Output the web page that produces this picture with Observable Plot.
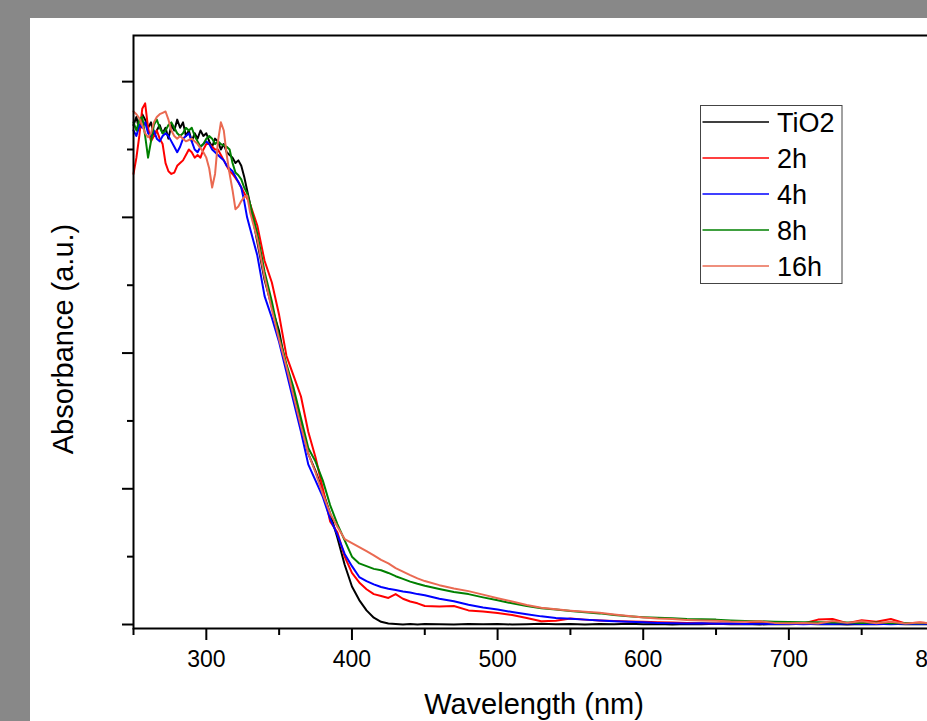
<!DOCTYPE html>
<html><head><meta charset="utf-8">
<script src="https://cdn.jsdelivr.net/npm/d3@7"></script>
<script src="https://cdn.jsdelivr.net/npm/@observablehq/plot@0.6"></script>
<style>
html,body{margin:0;padding:0;background:#888888;overflow:hidden;width:927px;height:721px;}
#panel{position:absolute;left:30px;top:18px;width:930px;height:703px;background:#ffffff;}
#legend{position:absolute;left:670px;top:87px;}
</style></head>
<body>
<div id="panel"><div id="chart"></div><div id="legend"></div></div>
<script>
const wavelengths = [
 250,252,254,256,258,260,262,264,266,268,270,272,274,276,278,280,282,284,286,288,290,292,294,296,298,300,302,304,306,308,310,312,314,316,318,320,322,324,326,328,330,
 335,340,345,350,355,360,365,370,375,380,385,390,395,400,405,410,415,420,425,430,435,440,445,450,
 460,470,480,490,500,510,520,530,540,550,560,570,580,590,600,610,620,630,640,650,660,670,680,690,700,710,720,730,740,750,760,770,780,790,800
];
const tio2 = [
 1.84,1.87,1.82,1.88,1.86,1.83,1.85,1.80,1.82,1.84,1.81,1.83,1.79,1.84,1.82,1.86,1.83,1.85,1.80,1.82,1.78,1.81,1.79,1.82,1.80,1.81,1.78,1.76,1.79,1.78,1.75,1.77,1.74,1.73,1.72,1.70,1.71,1.69,1.65,1.60,1.55,
 1.41,1.27,1.17,1.08,0.94,0.85,0.74,0.63,0.565,0.49,0.41,0.32,0.22,0.14,0.09,0.052,0.025,0.010,0.004,0.002,0.000,0.002,0.000,0.002,
 0.001,0.000,0.002,0.001,0.002,0.000,0.001,0.003,0.001,0.002,0.000,0.002,0.001,0.003,0.001,0.002,0.000,0.002,0.001,0.003,0.001,0.002,0.000,0.002,0.001,0.003,0.001,0.002,0.000,0.002,0.001,0.003,0.001,0.002,0.001
];
const h2 = [
 1.66,1.72,1.80,1.90,1.92,1.83,1.78,1.80,1.82,1.79,1.77,1.70,1.67,1.66,1.665,1.69,1.70,1.71,1.73,1.75,1.74,1.72,1.73,1.72,1.75,1.77,1.77,1.76,1.75,1.75,1.73,1.71,1.69,1.67,1.66,1.645,1.63,1.61,1.59,1.57,1.55,
 1.47,1.34,1.26,1.14,0.99,0.915,0.84,0.71,0.615,0.50,0.38,0.34,0.25,0.19,0.155,0.13,0.112,0.105,0.098,0.112,0.095,0.085,0.078,0.068,
 0.066,0.068,0.052,0.048,0.042,0.035,0.024,0.012,0.014,0.022,0.018,0.015,0.013,0.011,0.010,0.008,0.007,0.006,0.005,0.004,0.004,0.003,0.010,0.003,0.002,0.004,0.018,0.020,0.005,0.016,0.010,0.020,0.004,0.007,0.003
];
const h4 = [
 1.82,1.80,1.84,1.83,1.85,1.81,1.80,1.82,1.79,1.78,1.80,1.81,1.80,1.78,1.76,1.74,1.76,1.79,1.80,1.81,1.78,1.75,1.74,1.76,1.77,1.78,1.77,1.75,1.74,1.73,1.72,1.71,1.69,1.68,1.67,1.65,1.63,1.61,1.56,1.50,1.46,
 1.36,1.21,1.13,1.04,0.93,0.82,0.71,0.59,0.53,0.47,0.39,0.33,0.26,0.215,0.175,0.16,0.148,0.138,0.132,0.127,0.122,0.118,0.112,0.108,
 0.095,0.086,0.073,0.063,0.055,0.046,0.038,0.030,0.024,0.021,0.018,0.015,0.012,0.010,0.008,0.006,0.005,0.004,0.005,0.003,0.004,0.002,0.003,0.002,0.003,0.001,0.003,0.002,0.004,0.002,0.003,0.001,0.003,0.002,0.003
];
const h8 = [
 1.85,1.82,1.86,1.87,1.80,1.72,1.78,1.84,1.86,1.83,1.81,1.82,1.84,1.85,1.83,1.81,1.80,1.81,1.83,1.82,1.83,1.80,1.78,1.76,1.77,1.79,1.80,1.79,1.77,1.78,1.77,1.765,1.76,1.75,1.70,1.665,1.655,1.64,1.61,1.59,1.55,
 1.44,1.30,1.19,1.06,0.96,0.87,0.76,0.65,0.60,0.53,0.44,0.37,0.31,0.25,0.225,0.215,0.205,0.20,0.19,0.178,0.168,0.158,0.150,0.143,
 0.131,0.120,0.112,0.100,0.089,0.078,0.068,0.060,0.055,0.050,0.045,0.041,0.035,0.030,0.027,0.025,0.023,0.020,0.019,0.018,0.015,0.013,0.012,0.010,0.009,0.008,0.008,0.007,0.007,0.006,0.007,0.005,0.006,0.005,0.006
];
const h16 = [
 1.89,1.88,1.865,1.84,1.81,1.795,1.81,1.85,1.87,1.88,1.885,1.89,1.86,1.82,1.80,1.79,1.80,1.79,1.78,1.785,1.79,1.78,1.77,1.755,1.74,1.72,1.68,1.61,1.66,1.78,1.85,1.82,1.73,1.66,1.60,1.53,1.54,1.56,1.575,1.58,1.52,
 1.42,1.28,1.16,1.05,0.95,0.84,0.73,0.63,0.56,0.48,0.41,0.36,0.315,0.30,0.285,0.27,0.255,0.238,0.225,0.208,0.195,0.182,0.170,0.160,
 0.145,0.133,0.123,0.110,0.097,0.085,0.072,0.062,0.056,0.051,0.047,0.043,0.037,0.031,0.026,0.022,0.020,0.017,0.015,0.014,0.011,0.010,0.012,0.006,0.005,0.006,0.004,0.013,0.006,0.012,0.005,0.010,0.004,0.007,0.004
];
const seriesNames = ["TiO2","2h","4h","8h","16h"];
const seriesColors = ["#000000","#ff0000","#0000ff","#008000","#ea6a52"];
const seriesValues = [tio2,h2,h4,h8,h16];
const xMajor = [300,400,500,600,700,800];
const xMinor = [250,350,450,550,650,750];
const yMajor = [0,0.5,1,1.5,2];
const yMinor = [0.25,0.75,1.25,1.75];
const xTitle = "Wavelength (nm)";
const yTitle = "Absorbance (a.u.)";

const data = seriesNames.flatMap((name,i)=>wavelengths.map((w,j)=>({name, w, a: seriesValues[i][j]})));
const font = "'Liberation Sans', Arial, sans-serif";

const chart = Plot.plot({
  width: 930, height: 703,
  marginLeft: 103, marginTop: 17, marginRight: 26, marginBottom: 93,
  x: {domain: [250,800], label: null},
  y: {domain: [-0.0147, 2.170], label: null},
  color: {domain: seriesNames, range: seriesColors},
  style: {fontFamily: font, fontSize: "23px", background: "transparent", color: "#000"},
  marks: [
    Plot.line(data, {x: "w", y: "a", z: "name", stroke: "name", strokeWidth: 2}),
    Plot.frame({stroke: "#000", strokeWidth: 2}),
    Plot.axisX({ticks: xMajor, tickSize: 12, tickPadding: 10, fontSize: 23, strokeWidth: 2, tickFormat: d => String(d), label: null}),
    Plot.axisX({ticks: xMinor, tickSize: 7, strokeWidth: 2, tickFormat: () => "", label: null}),
    Plot.axisY({ticks: yMajor, tickSize: 11, strokeWidth: 2, tickFormat: () => "", label: null}),
    Plot.axisY({ticks: yMinor, tickSize: 6, strokeWidth: 2, tickFormat: () => "", label: null}),
    Plot.text([xTitle], {frameAnchor: "bottom", dy: 76, fontSize: 29, lineAnchor: "middle", textAnchor: "middle", fill: "#000"}),
    Plot.text([yTitle], {frameAnchor: "left", dx: -70, dy: 7, rotate: -90, fontSize: 29, lineAnchor: "middle", textAnchor: "middle", fill: "#000"})
  ]
});
document.getElementById("chart").appendChild(chart);

// legend
const lg = d3.select("#legend").append("svg").attr("width", 143).attr("height", 180)
  .style("font-family", font);
lg.append("rect").attr("x", 0.5).attr("y", 0.5).attr("width", 141.5).attr("height", 178)
  .attr("fill", "#fff").attr("stroke", "#444").attr("stroke-width", 1);
seriesNames.forEach((name, i) => {
  const yy = 17 + i * 36;
  lg.append("line").attr("x1", 2.5).attr("x2", 69).attr("y1", yy).attr("y2", yy)
    .attr("stroke", seriesColors[i]).attr("stroke-width", 1.6);
  lg.append("text").attr("x", 77).attr("y", yy + 9.7).attr("font-size", 27).attr("fill", "#000").text(name);
});
</script>
</body></html>
